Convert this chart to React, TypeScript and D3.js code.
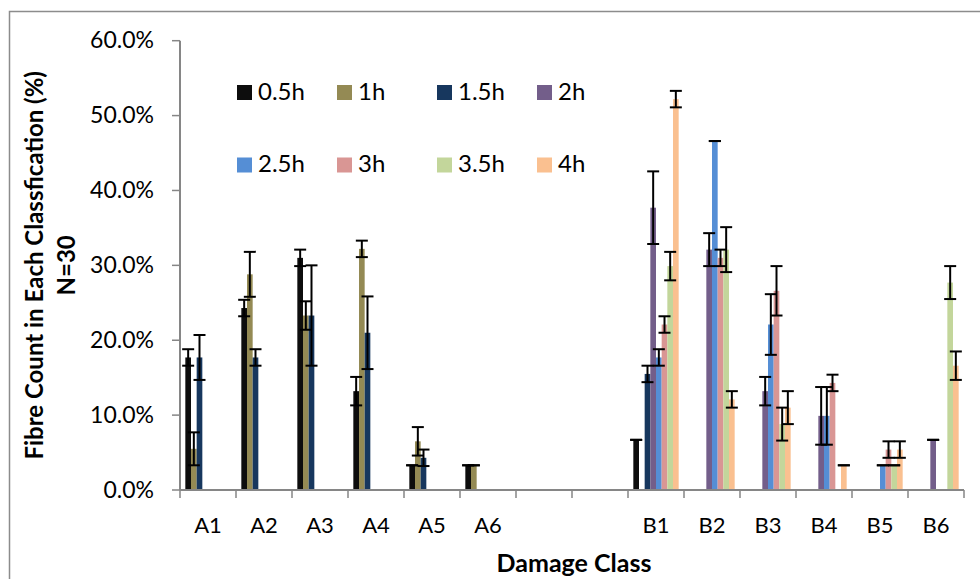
import React from "react";
import * as d3 from "d3";

// categories along the x axis (two empty slots between the A and B groups)
const categories = ["A1", "A2", "A3", "A4", "A5", "A6", "", "", "B1", "B2", "B3", "B4", "B5", "B6"];
const seriesNames = ["0.5h", "1h", "1.5h", "2h", "2.5h", "3h", "3.5h", "4h"];
const seriesColors = ["#0d0d0d", "#948a54", "#17375e", "#735e8a", "#558ed5", "#d99694", "#c3d69b", "#fac090"];

// values in %, null = no bar
const v05 = [17.7, 24.3, 31.0, 13.2, 3.3, 3.3, null, null, 6.7, null, null, null, null, null];
const v1 = [5.5, 28.8, 23.3, 32.2, 6.5, 3.3, null, null, null, null, null, null, null, null];
const v15 = [17.7, 17.7, 23.3, 21.0, 4.3, null, null, null, 15.5, null, null, null, null, null];
const v2 = [null, null, null, null, null, null, null, null, 37.7, 32.1, 13.2, 9.9, null, 6.7];
const v25 = [null, null, null, null, null, null, null, null, 17.7, 46.6, 22.1, 9.9, 3.3, null];
const v3 = [null, null, null, null, null, null, null, null, 22.1, 31.0, 26.6, 14.3, 5.4, null];
const v35 = [null, null, null, null, null, null, null, null, 29.9, 32.1, 8.8, null, 3.3, 27.7];
const v4 = [null, null, null, null, null, null, null, null, 52.2, 12.1, 11.0, 3.3, 5.4, 16.6];

// error (+/-) in %
const e05 = [1.1, 1.1, 1.1, 1.9, 0, 0, 0, 0, 0, 0, 0, 0, 0, 0];
const e1 = [2.2, 3.0, 1.9, 1.1, 1.9, 0, 0, 0, 0, 0, 0, 0, 0, 0];
const e15 = [3.0, 1.1, 6.7, 4.85, 1.1, 0, 0, 0, 1.1, 0, 0, 0, 0, 0];
const e2 = [0, 0, 0, 0, 0, 0, 0, 0, 4.85, 2.2, 1.9, 3.85, 0, 0];
const e25 = [0, 0, 0, 0, 0, 0, 0, 0, 1.1, 0, 4.05, 3.85, 0, 0];
const e3 = [0, 0, 0, 0, 0, 0, 0, 0, 1.1, 1.1, 3.3, 1.1, 1.1, 0];
const e35 = [0, 0, 0, 0, 0, 0, 0, 0, 1.9, 3.0, 2.2, 0, 0, 2.2];
const e4 = [0, 0, 0, 0, 0, 0, 0, 0, 1.1, 1.1, 2.2, 0, 1.1, 1.9];

const yTicks = [0, 0.1, 0.2, 0.3, 0.4, 0.5, 0.6];

const values = [v05, v1, v15, v2, v25, v3, v35, v4];
const errors = [e05, e1, e15, e2, e25, e3, e35, e4];

const W = 980;
const H = 579;
const left = 180;
const right = 964;
const top = 40.7;
const bottom = 490;
const font = "Lato, 'Open Sans', sans-serif";

export default function App() {
  const x0 = d3.scaleBand<number>().domain(d3.range(categories.length)).range([left, right]).padding(0);
  const x1 = d3.scaleBand<number>().domain(d3.range(seriesNames.length)).range([0, x0.bandwidth()]).paddingInner(0).paddingOuter(0.94);
  const y = d3.scaleLinear().domain([0, 0.6]).range([bottom, top]);
  const fmt = d3.format(".1%");
  const axisColor = "#868686";

  const bars: JSX.Element[] = [];
  const errs: JSX.Element[] = [];
  values.forEach((vals, s) => {
    vals.forEach((v, c) => {
      if (v == null) return;
      const bx = x0(c)! + x1(s)!;
      const bw = x1.bandwidth();
      const val = v / 100;
      bars.push(
        <rect key={`b${s}-${c}`} x={bx} y={y(val)} width={bw} height={y(0) - y(val)} fill={seriesColors[s]} />
      );
      const e = errors[s][c] / 100;
      const cx = bx + bw / 2;
      const hi = y(val + e);
      const lo = y(val - e);
      errs.push(
        <g key={`e${s}-${c}`} stroke="#000" strokeWidth={2}>
          <line x1={cx} x2={cx} y1={hi} y2={lo} />
          <line x1={cx - 6} x2={cx + 6} y1={hi} y2={hi} />
          <line x1={cx - 6} x2={cx + 6} y1={lo} y2={lo} />
        </g>
      );
    });
  });

  const boundaries = d3.range(categories.length + 1).map((i) => left + i * x0.step());

  return (
    <svg width={W} height={H} style={{ position: "absolute", left: 0, top: 0, background: "#fff" }} fontFamily={font}>
      <rect x={9.5} y={11.5} width={W + 20} height={H + 20} fill="#fff" stroke="#8c8c8c" strokeWidth={1.5} />

      {/* y axis */}
      <line x1={left} x2={left} y1={top} y2={bottom} stroke={axisColor} strokeWidth={2} />
      {yTicks.map((t) => (
        <g key={t}>
          <line x1={left - 8} x2={left} y1={y(t)} y2={y(t)} stroke={axisColor} strokeWidth={1.5} />
          <text x={154} y={y(t)} dy="0.33em" textAnchor="end" fontSize={23} fill="#000">
            {fmt(t)}
          </text>
        </g>
      ))}

      {bars}
      {errs}

      {/* x axis */}
      <line x1={left} x2={right} y1={bottom} y2={bottom} stroke={axisColor} strokeWidth={2} />
      {boundaries.map((bx, i) => (
        <line key={i} x1={bx} x2={bx} y1={bottom} y2={bottom + 8} stroke={axisColor} strokeWidth={1.5} />
      ))}
      {categories.map((c, i) => (
        <text key={i} x={x0(i)! + x0.bandwidth() / 2} y={533} textAnchor="middle" fontSize={22} fill="#000">
          {c}
        </text>
      ))}

      {/* axis titles */}
      <text x={574} y={572} textAnchor="middle" fontSize={25} fontWeight="bold" fill="#000">
        Damage Class
      </text>
      <g transform={`translate(43, ${(top + bottom) / 2}) rotate(-90)`}>
        <text x={0} y={0} textAnchor="middle" fontSize={24} fontWeight="bold" fill="#000">
          Fibre Count in Each Classfication (%)
        </text>
        <text x={0} y={32} textAnchor="middle" fontSize={24} fontWeight="bold" fill="#000">
          N=30
        </text>
      </g>

      {/* legend */}
      {seriesNames.map((name, i) => {
        const lx = 237 + (i % 4) * 100;
        const ly = 85 + Math.floor(i / 4) * 72.5;
        return (
          <g key={name}>
            <rect x={lx} y={ly} width={15} height={15} fill={seriesColors[i]} />
            <text x={lx + 21} y={ly + 14.5} fontSize={24} fill="#000">
              {name}
            </text>
          </g>
        );
      })}
    </svg>
  );
}
